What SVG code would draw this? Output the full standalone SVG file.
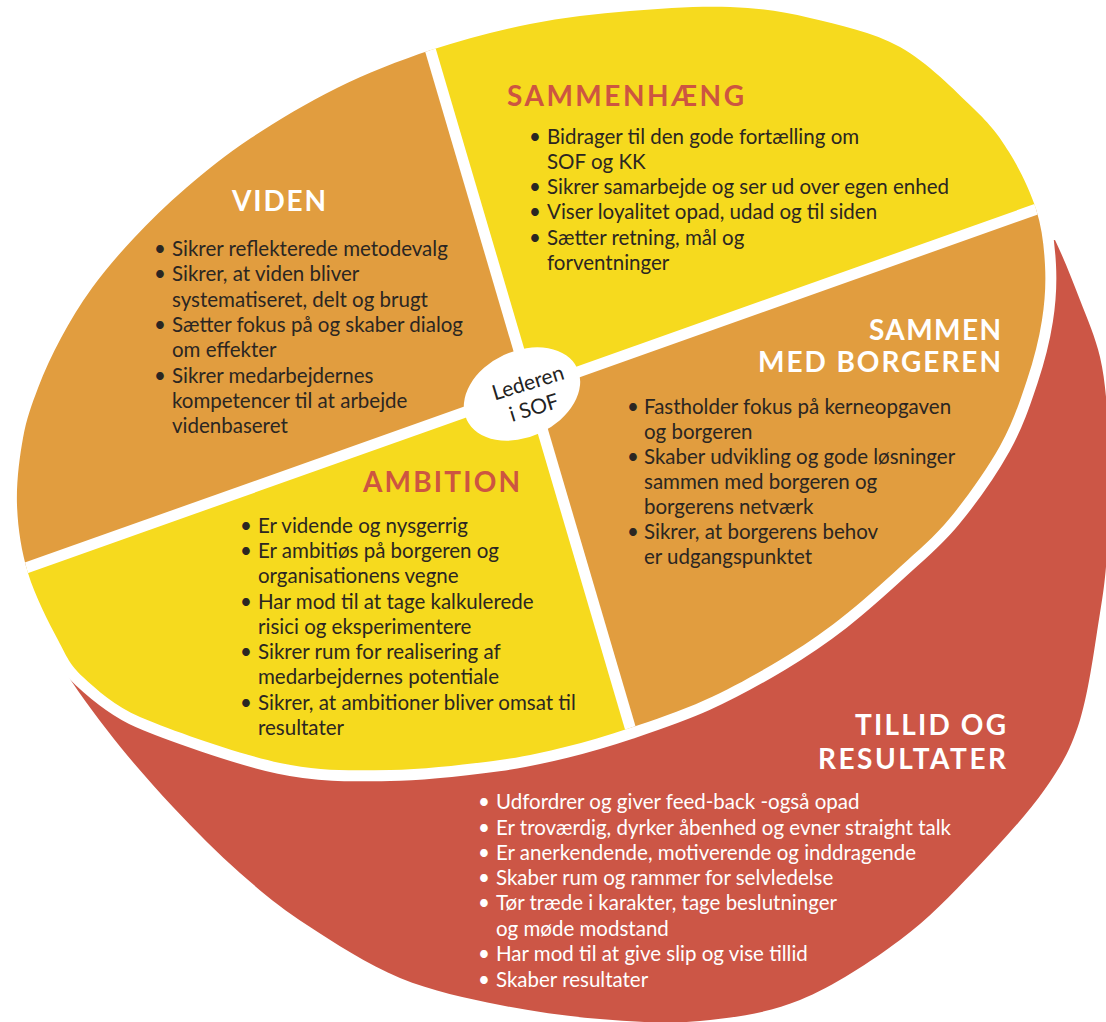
<svg xmlns="http://www.w3.org/2000/svg" xmlns:xlink="http://www.w3.org/1999/xlink" width="1106" height="1022" viewBox="0 0 1106 1022">
<style>
.body{font-family:Lato,"Liberation Sans",sans-serif;font-size:20.5px;fill:#2b2622}
.wbody{font-family:Lato,"Liberation Sans",sans-serif;font-size:20.5px;fill:#ffffff}
.title{font-family:Lato,"Liberation Sans",sans-serif;font-size:28px;font-weight:700}
.tw{fill:#ffffff}
.tr{fill:#cd5541}
.orange{fill:#e19d3f}
.yellow{fill:#f6da1e}
.red{fill:#cc5646}
.divider{stroke:#ffffff;stroke-width:11;fill:none}
.center{font-family:Lato,"Liberation Sans",sans-serif;font-size:21px;fill:#222222}
</style>
<defs>
<path id="ovalPath" d="M17,505 C16.2,482.5 19.5,457.5 23,438 C26.5,418.5 31.7,404.7 38,388 C44.3,371.3 52,354.7 61,338 C70,321.3 79.8,304.7 92,288 C104.2,271.3 118.3,254.7 134,238 C149.7,221.3 166.5,204.7 186,188 C205.5,171.3 225.8,154.7 251,138 C276.2,121.3 307,102.7 337,88 C367,73.3 398.8,60.7 431,50 C463.2,39.3 496.8,30.5 530,24 C563.2,17.5 596.7,13.8 630,11 C663.3,8.2 700,5.8 730,7 C760,8.2 781.7,11.3 810,18 C838.3,24.7 872.8,32 900,47 C927.2,62 954.8,90.5 973,108 C991.2,125.5 998.5,135.2 1009,152 C1019.5,168.8 1030,190.2 1036,209 C1042,227.8 1044,246.5 1045,265 C1046,283.5 1045,300.8 1042,320 C1039,339.2 1034,359 1027,380 C1020,401 1012.8,423 1000,446 C987.2,469 966.7,497.8 950,518 C933.3,538.2 918.3,550.2 900,567 C881.7,583.8 860,603.5 840,619 C820,634.5 802.5,646.5 780,660 C757.5,673.5 730,688.7 705,700 C680,711.3 653.3,720.2 630,728 C606.7,735.8 586.7,741.7 565,747 C543.3,752.3 525,756.7 500,760 C475,763.3 426.7,769.5 390,770 C353.3,770.5 321.7,771.8 280,763 C238.3,754.2 165,728 140,717 C115,706 96.7,689.8 83,677 C69.3,664.2 67.2,657.3 58,640 C48.8,622.7 34.8,595.5 28,573 C21.2,550.5 17.8,527.5 17,505 Z"/>
<clipPath id="ovalClip"><use xlink:href="#ovalPath"/></clipPath>
</defs>

<g id="tillid">
<path class="red" d="M1055,240 C1064.2,259.2 1072.5,280.5 1080,300 C1087.5,319.5 1095.3,337 1100,357 C1104.7,377 1106.2,398.7 1108,420 C1109.8,441.3 1111.2,462.5 1111,485 C1110.8,507.5 1108.8,533.7 1107,555 C1105.2,576.3 1104.5,585.5 1100,613 C1095.5,640.5 1089.2,690.7 1080,720 C1070.8,749.3 1062.5,764 1045,789 C1027.5,814 999.2,844.8 975,870 C950.8,895.2 929.2,918.3 900,940 C870.8,961.7 833.3,986.5 800,1000 C766.7,1013.5 733.3,1017.8 700,1021 C666.7,1024.2 633.3,1021.7 600,1019 C566.7,1016.3 533.3,1011.8 500,1005 C466.7,998.2 432.2,991.3 400,978 C367.8,964.7 333.7,942.5 307,925 C280.3,907.5 262.3,892.7 240,873 C217.7,853.3 195.2,830.8 173,807 C150.8,783.2 127,756.2 107,730 C87,703.8 66.7,676.7 53,650 L120,600 L1000,250 Z"/>
<text class="title tw" x="855" y="735" textLength="151" lengthAdjust="spacing">TILLID OG</text>
<text class="title tw" x="818" y="769" textLength="188" lengthAdjust="spacing">RESULTATER</text>
<text class="wbody" x="478" y="809">•</text><text class="wbody" x="496" y="809">Udfordrer og giver feed-back -også opad</text>
<text class="wbody" x="478" y="834.5">•</text><text class="wbody" x="496" y="834.5">Er troværdig, dyrker åbenhed og evner straight talk</text>
<text class="wbody" x="478" y="860">•</text><text class="wbody" x="496" y="860">Er anerkendende, motiverende og inddragende</text>
<text class="wbody" x="478" y="885">•</text><text class="wbody" x="496" y="885">Skaber rum og rammer for selvledelse</text>
<text class="wbody" x="478" y="910">•</text><text class="wbody" x="496" y="910">Tør træde i karakter, tage beslutninger</text>
<text class="wbody" x="496" y="935.5">og møde modstand</text>
<text class="wbody" x="478" y="961">•</text><text class="wbody" x="496" y="961">Har mod til at give slip og vise tillid</text>
<text class="wbody" x="478" y="986.5">•</text><text class="wbody" x="496" y="986.5">Skaber resultater</text>
</g>

<use id="oval-outline" xlink:href="#ovalPath" fill="#ffffff" stroke="#ffffff" stroke-width="22"/>

<g id="viden">
<polygon class="orange" clip-path="url(#ovalClip)" points="530.3,388.9 386.2,-100 -100,-100 -100,612.7"/>
<text class="title tw" x="232" y="211" textLength="94" lengthAdjust="spacing">VIDEN</text>
<text class="body" x="154" y="256">•</text><text class="body" x="172" y="256">Sikrer reflekterede metodevalg</text>
<text class="body" x="154" y="281.3">•</text><text class="body" x="172" y="281.3">Sikrer, at viden bliver</text>
<text class="body" x="172" y="306.6">systematiseret, delt og brugt</text>
<text class="body" x="154" y="331.9">•</text><text class="body" x="172" y="331.9">Sætter fokus på og skaber dialog</text>
<text class="body" x="172" y="357.2">om effekter</text>
<text class="body" x="154" y="382.5">•</text><text class="body" x="172" y="382.5">Sikrer medarbejdernes</text>
<text class="body" x="172" y="407.8">kompetencer til at arbejde</text>
<text class="body" x="172" y="433.1">videnbaseret</text>
</g>

<g id="sammenhaeng">
<polygon class="yellow" clip-path="url(#ovalClip)" points="530.3,388.9 386.2,-100 1200,-100 1200,151.1"/>
<text class="title tr" x="507" y="106" textLength="237" lengthAdjust="spacing">SAMMENHÆNG</text>
<text class="body" x="529" y="144">•</text><text class="body" x="547" y="144">Bidrager til den gode fortælling om</text>
<text class="body" x="547" y="169">SOF og KK</text>
<text class="body" x="529" y="194">•</text><text class="body" x="547" y="194">Sikrer samarbejde og ser ud over egen enhed</text>
<text class="body" x="529" y="219">•</text><text class="body" x="547" y="219">Viser loyalitet opad, udad og til siden</text>
<text class="body" x="529" y="245">•</text><text class="body" x="547" y="245">Sætter retning, mål og</text>
<text class="body" x="547" y="270">forventninger</text>
</g>

<g id="borgeren">
<polygon class="orange" clip-path="url(#ovalClip)" points="530.3,388.9 1200,151.1 1200,900 681,900"/>
<text class="title tw" x="869" y="340" textLength="132" lengthAdjust="spacing">SAMMEN</text>
<text class="title tw" x="758" y="372" textLength="243" lengthAdjust="spacing">MED BORGEREN</text>
<text class="body" x="627" y="414">•</text><text class="body" x="644" y="414">Fastholder fokus på kerneopgaven</text>
<text class="body" x="644" y="439">og borgeren</text>
<text class="body" x="627" y="464">•</text><text class="body" x="644" y="464">Skaber udvikling og gode løsninger</text>
<text class="body" x="644" y="489">sammen med borgeren og</text>
<text class="body" x="644" y="514">borgerens netværk</text>
<text class="body" x="627" y="539">•</text><text class="body" x="644" y="539">Sikrer, at borgerens behov</text>
<text class="body" x="644" y="564">er udgangspunktet</text>
</g>

<g id="ambition">
<polygon class="yellow" clip-path="url(#ovalClip)" points="530.3,388.9 681,900 -100,900 -100,612.7"/>
<text class="title tr" x="363" y="492" textLength="157" lengthAdjust="spacing">AMBITION</text>
<text class="body" x="240" y="532.6">•</text><text class="body" x="258" y="532.6">Er vidende og nysgerrig</text>
<text class="body" x="240" y="557.9">•</text><text class="body" x="258" y="557.9">Er ambitiøs på borgeren og</text>
<text class="body" x="258" y="583.2">organisationens vegne</text>
<text class="body" x="240" y="608.5">•</text><text class="body" x="258" y="608.5">Har mod til at tage kalkulerede</text>
<text class="body" x="258" y="633.8">risici og eksperimentere</text>
<text class="body" x="240" y="659.1">•</text><text class="body" x="258" y="659.1">Sikrer rum for realisering af</text>
<text class="body" x="258" y="684.4">medarbejdernes potentiale</text>
<text class="body" x="240" y="709.7">•</text><text class="body" x="258" y="709.7">Sikrer, at ambitioner bliver omsat til</text>
<text class="body" x="258" y="735">resultater</text>
</g>

<g id="connectors" clip-path="url(#ovalClip)">
<line class="divider" x1="386.2" y1="-100" x2="681" y2="900"/>
<line class="divider" x1="-100" y1="612.7" x2="1200" y2="151.1"/>
</g>

<g id="lederen">
<ellipse cx="522" cy="394" rx="61" ry="43" fill="#ffffff" transform="rotate(-25 522 394)"/>
<text class="center" x="528" y="390" text-anchor="middle" transform="rotate(-17 528 383)">Lederen</text>
<text class="center" x="534" y="415" text-anchor="middle" transform="rotate(-17 534 408)">i SOF</text>
</g>
</svg>
